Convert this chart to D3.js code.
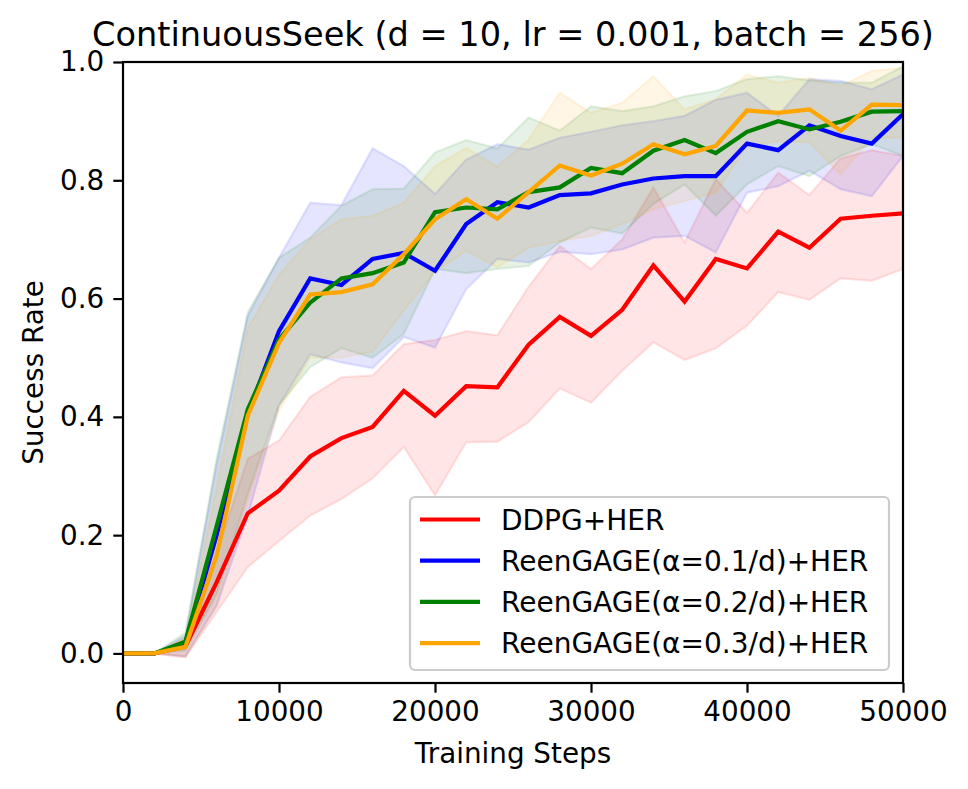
<!DOCTYPE html>
<html>
<head>
<meta charset="utf-8">
<script src="https://cdn.jsdelivr.net/npm/d3@7"></script>
<style>
    body { margin: 0; background: #fff; }
    text { font-family: "DejaVu Sans", sans-serif; fill: #000; }
</style>
</head>
<body>
<div id="chart"></div>
<script>
// data (training steps vs success rate)
var steps = [0, 2000, 4000, 6000, 8000, 10000, 12000, 14000, 16000, 18000, 20000, 22000, 24000,
             26000, 28000, 30000, 32000, 34000, 36000, 38000, 40000, 42000, 44000, 46000, 48000, 50000];

var ddpgMean = [0, 0, 0.012, 0.12, 0.237, 0.275, 0.333, 0.364, 0.383, 0.444, 0.402, 0.452, 0.450,
                0.522, 0.569, 0.537, 0.581, 0.656, 0.595, 0.667, 0.651, 0.713, 0.686, 0.735, 0.740, 0.744];
var ddpgLo   = [0, 0, -0.007, 0.07, 0.146, 0.19, 0.233, 0.261, 0.296, 0.349, 0.267, 0.357, 0.358,
                0.391, 0.448, 0.424, 0.478, 0.526, 0.496, 0.516, 0.554, 0.611, 0.598, 0.634, 0.630, 0.650];
var ddpgHi   = [0, 0, 0.025, 0.17, 0.329, 0.36, 0.434, 0.467, 0.470, 0.523, 0.530, 0.545, 0.538,
                0.62, 0.689, 0.650, 0.70, 0.788, 0.695, 0.802, 0.745, 0.813, 0.775, 0.837, 0.851, 0.841];

var a1Mean = [0, 0, 0.015, 0.20, 0.405, 0.545, 0.634, 0.623, 0.667, 0.677, 0.647, 0.726, 0.763,
              0.754, 0.775, 0.778, 0.793, 0.803, 0.807, 0.807, 0.862, 0.851, 0.893, 0.875, 0.862, 0.912];
var a1Lo   = [0, 0, -0.005, 0.08, 0.233, 0.419, 0.506, 0.492, 0.482, 0.535, 0.517, 0.616, 0.667,
              0.661, 0.679, 0.675, 0.683, 0.703, 0.706, 0.678, 0.779, 0.790, 0.816, 0.785, 0.773, 0.841];
var a1Hi   = [0, 0, 0.03, 0.32, 0.571, 0.669, 0.762, 0.758, 0.854, 0.824, 0.777, 0.835, 0.861,
              0.852, 0.872, 0.882, 0.893, 0.900, 0.909, 0.936, 0.948, 0.909, 0.971, 0.968, 0.954, 0.979];

var a2Mean = [0, 0, 0.02, 0.215, 0.413, 0.531, 0.593, 0.634, 0.643, 0.661, 0.746, 0.754, 0.751,
              0.780, 0.788, 0.821, 0.812, 0.850, 0.868, 0.846, 0.882, 0.900, 0.886, 0.899, 0.916, 0.917];
var a2Lo   = [0, 0, 0.005, 0.10, 0.27, 0.42, 0.484, 0.516, 0.500, 0.540, 0.650, 0.643, 0.650,
              0.655, 0.695, 0.720, 0.710, 0.760, 0.793, 0.740, 0.793, 0.824, 0.807, 0.841, 0.861, 0.841];
var a2Hi   = [0, 0, 0.035, 0.33, 0.577, 0.669, 0.703, 0.757, 0.785, 0.786, 0.847, 0.868, 0.854,
              0.906, 0.884, 0.925, 0.917, 0.925, 0.942, 0.951, 0.971, 0.976, 0.969, 0.965, 0.965, 0.993];

var a3Mean = [0, 0, 0.011, 0.165, 0.402, 0.525, 0.607, 0.611, 0.624, 0.675, 0.734, 0.768, 0.735,
              0.780, 0.825, 0.808, 0.828, 0.861, 0.844, 0.858, 0.918, 0.914, 0.920, 0.884, 0.928, 0.927];
var a3Lo   = [0, 0, -0.005, 0.08, 0.26, 0.41, 0.50, 0.50, 0.51, 0.58, 0.645, 0.681, 0.653,
              0.686, 0.697, 0.706, 0.726, 0.751, 0.765, 0.779, 0.858, 0.866, 0.864, 0.810, 0.872, 0.872];
var a3Hi   = [0, 0, 0.025, 0.28, 0.55, 0.64, 0.700, 0.734, 0.740, 0.762, 0.824, 0.855, 0.823,
              0.869, 0.948, 0.914, 0.931, 0.976, 0.920, 0.937, 0.979, 0.965, 0.973, 0.959, 0.985, 0.990];

var seriesNames  = ["DDPG+HER", "ReenGAGE(\u03b1=0.1/d)+HER", "ReenGAGE(\u03b1=0.2/d)+HER", "ReenGAGE(\u03b1=0.3/d)+HER"];
var seriesColors = ["#ff0000", "#0000ff", "#008000", "#ffa500"];
var xTicks = [0, 10000, 20000, 30000, 40000, 50000];
var yTicks = [0.0, 0.2, 0.4, 0.6, 0.8, 1.0];

(function () {
    var W = 968, H = 789;
    var margin = { top: 62, right: 65, bottom: 106, left: 123 };
    var iW = W - margin.left - margin.right;
    var iH = H - margin.top - margin.bottom;
    var FS = 27.8; // tick / label font size (10pt)

    var series = [
        { mean: ddpgMean, lo: ddpgLo, hi: ddpgHi },
        { mean: a1Mean,   lo: a1Lo,   hi: a1Hi },
        { mean: a2Mean,   lo: a2Lo,   hi: a2Hi },
        { mean: a3Mean,   lo: a3Lo,   hi: a3Hi }
    ];

    var svg = d3.select("#chart").append("svg")
        .attr("width", W).attr("height", H);

    var g = svg.append("g")
        .attr("transform", "translate(" + margin.left + "," + margin.top + ")");

    g.append("defs").append("clipPath")
        .attr("id", "clip-plot")
        .append("rect")
        .attr("width", iW).attr("height", iH);

    var x = d3.scaleLinear().domain([0, 50000]).range([0, iW]);
    var y = d3.scaleLinear().domain([-0.05, 1.0]).range([iH, 0]);

    var plot = g.append("g").attr("clip-path", "url(#clip-plot)");

    // bands first, then lines on top
    series.forEach(function (s, k) {
        var area = d3.area()
            .x(function (d, i) { return x(steps[i]); })
            .y0(function (d, i) { return y(s.lo[i]); })
            .y1(function (d, i) { return y(s.hi[i]); });
        plot.append("path")
            .datum(steps)
            .attr("d", area)
            .attr("fill", seriesColors[k])
            .attr("fill-opacity", 0.1)
            .attr("stroke", seriesColors[k])
            .attr("stroke-opacity", 0.1)
            .attr("stroke-width", 2.2);
    });

    series.forEach(function (s, k) {
        var line = d3.line()
            .x(function (d, i) { return x(steps[i]); })
            .y(function (d, i) { return y(s.mean[i]); });
        plot.append("path")
            .datum(steps)
            .attr("d", line)
            .attr("fill", "none")
            .attr("stroke", seriesColors[k])
            .attr("stroke-width", 4.2)
            .attr("stroke-linejoin", "miter")
            .attr("stroke-linecap", "square");
    });

    // axes
    var xAxis = g.append("g")
        .attr("transform", "translate(0," + iH + ")")
        .call(d3.axisBottom(x).tickValues(xTicks).tickSize(9.7).tickPadding(9).tickFormat(d3.format("d")));
    var yAxis = g.append("g")
        .call(d3.axisLeft(y).tickValues(yTicks).tickSize(9.7).tickPadding(9).tickFormat(d3.format(".1f")));

    [xAxis, yAxis].forEach(function (a) {
        a.select(".domain").remove();
        a.selectAll("line").attr("stroke", "#000").attr("stroke-width", 2.2);
        a.selectAll("text")
            .style("font-family", "'DejaVu Sans', sans-serif")
            .style("font-size", FS + "px")
            .attr("fill", "#000");
    });

    // spines
    g.append("rect")
        .attr("width", iW).attr("height", iH)
        .attr("fill", "none")
        .attr("stroke", "#000")
        .attr("stroke-width", 2.2);

    // title + axis labels
    svg.append("text")
        .attr("x", margin.left + iW / 2).attr("y", 46)
        .attr("text-anchor", "middle")
        .style("font-size", "33.6px")
        .text("ContinuousSeek (d = 10, lr = 0.001, batch = 256)");

    svg.append("text")
        .attr("x", margin.left + iW / 2).attr("y", 763)
        .attr("text-anchor", "middle")
        .style("font-size", FS + "px")
        .text("Training Steps");

    svg.append("text")
        .attr("transform", "translate(43," + (margin.top + iH / 2) + ") rotate(-90)")
        .attr("text-anchor", "middle")
        .style("font-size", FS + "px")
        .text("Success Rate");

    // legend
    var legend = svg.append("g").attr("transform", "translate(410,497)");
    legend.append("rect")
        .attr("width", 479).attr("height", 173)
        .attr("rx", 5).attr("ry", 5)
        .attr("fill", "#fff").attr("fill-opacity", 0.8)
        .attr("stroke", "#cccccc").attr("stroke-width", 2.2);

    seriesNames.forEach(function (name, k) {
        var row = legend.append("g").attr("transform", "translate(0," + (22.5 + k * 41.2) + ")");
        row.append("line")
            .attr("x1", 10).attr("x2", 70)
            .attr("stroke", seriesColors[k])
            .attr("stroke-width", 4.2);
        row.append("text")
            .attr("x", 91).attr("y", 0)
            .attr("dy", "0.36em")
            .style("font-size", "28px")
            .text(name);
    });
}());
</script>
</body>
</html>
